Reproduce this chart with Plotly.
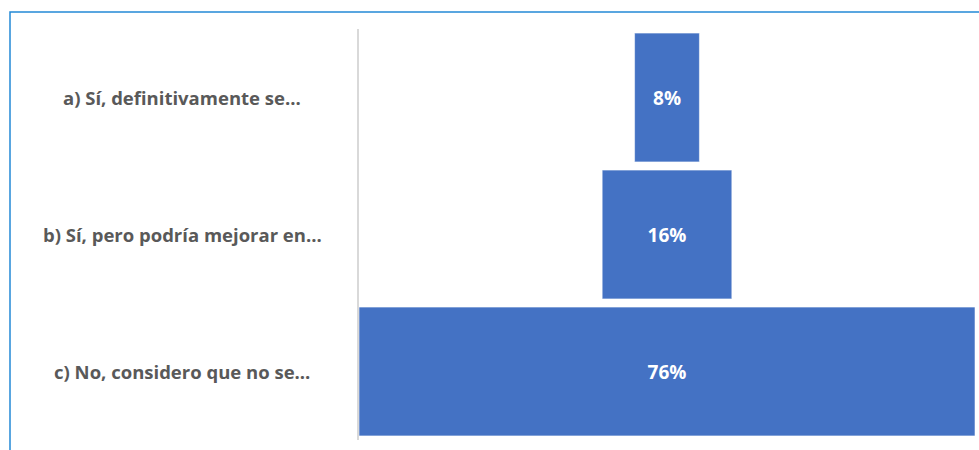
import plotly.graph_objects as go

# Survey answers and their share of responses (%)
categories = [
    "a) Sí, definitivamente se...",
    "b) Sí, pero podría mejorar en...",
    "c) No, considero que no se...",
]
values = [8, 16, 76]
value_labels = [f"{v}%" for v in values]

W, H = 979, 450
L, R, T, B = 359, 4, 29, 10
plot_w = W - L - R
plot_h = H - T - B
FONT = "Open Sans"

fig = go.Figure(
    go.Funnel(
        y=categories,
        x=values,
        text=value_labels,
        textinfo="text",
        textposition="inside",
        insidetextanchor="middle",
        textfont=dict(family=FONT, size=19, color="white", weight="bold"),
        marker=dict(color="#4472C4", line=dict(color="rgba(255,255,255,0.55)", width=1)),
        connector=dict(visible=False),
        hoverinfo="skip",
    )
)

# Category labels, centred in the left margin
for cat in categories:
    fig.add_annotation(
        x=(182 - L) / plot_w, xref="paper",
        y=cat, yref="y",
        text=f"<b>{cat}</b>",
        showarrow=False,
        xanchor="center",
        font=dict(family=FONT, size=18.5, color="#595959"),
    )

# Outer frame of the chart
fig.add_shape(
    type="rect", xref="paper", yref="paper",
    x0=(10 - L) / plot_w, x1=(990 - L) / plot_w,
    y0=-(470 - (H - B)) / plot_h, y1=1 + (T - 12) / plot_h,
    line=dict(color="#2389D6", width=1.5),
    fillcolor="rgba(0,0,0,0)",
    layer="below",
)

fig.update_layout(
    width=W, height=H,
    margin=dict(l=L, r=R, t=T, b=B),
    paper_bgcolor="white",
    plot_bgcolor="white",
    showlegend=False,
    funnelgap=0.06,
    xaxis=dict(visible=False, range=[-38, 38], fixedrange=True),
    yaxis=dict(
        type="category",
        categoryorder="array",
        categoryarray=categories,
        autorange="reversed",
        showticklabels=False,
        showgrid=False,
        showline=True,
        linecolor="#D9D9D9",
        linewidth=1.5,
        ticks="",
        zeroline=False,
    ),
)

fig.write_html("out.html")
